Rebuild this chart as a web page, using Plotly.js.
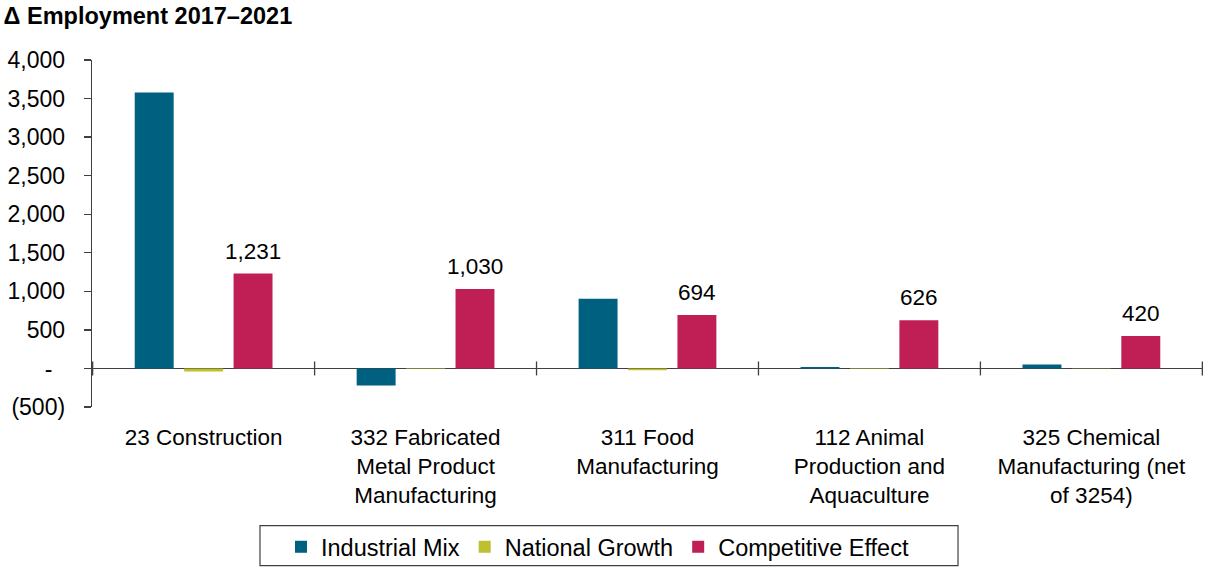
<!DOCTYPE html>
<html>
<head>
<meta charset="utf-8">
<script src="https://cdn.plot.ly/plotly-3.0.1.min.js"></script>
<style>html,body{margin:0;padding:0;background:#fff;}#chart{width:1205px;height:569px;}</style>
</head>
<body>
<div id="chart"></div>
<script>
// ---- data ----
const categories = [
  "23 Construction",
  "332 Fabricated<br>Metal Product<br>Manufacturing",
  "311 Food<br>Manufacturing",
  "112 Animal<br>Production and<br>Aquaculture",
  "325 Chemical<br>Manufacturing (net<br>of 3254)"
];
const industrialMix = [3580, -220, 905, 20, 50];
const nationalGrowth = [-40, -8, -25, -6, -5];
const competitiveEffect = [1231, 1030, 694, 626, 420];
const seriesNames = ["Industrial Mix", "National Growth", "Competitive Effect"];
const yTickVals = [-500, 0, 500, 1000, 1500, 2000, 2500, 3000, 3500, 4000];
const yTickText = ["(500)", "-\u00a0\u00a0", "500", "1,000", "1,500", "2,000", "2,500", "3,000", "3,500", "4,000"];
const chartTitle = "\u0394 Employment 2017\u20132021";

// ---- styles ----
const FONT = "Liberation Sans, Arial, Helvetica, sans-serif";
const colors = ["#006080", "#BDC12F", "#BF1F55"];
const axisColor = "#404040";
const fmt = v => v.toLocaleString("en-US");

const traces = [industrialMix, nationalGrowth, competitiveEffect].map((vals, k) => ({
  type: "bar",
  name: seriesNames[k],
  x: categories,
  y: vals,
  marker: {color: colors[k], line: {width: 0}},
  hoverinfo: "skip"
}));

const annotations = categories.map((c, i) => ({
  x: c, y: competitiveEffect[i], xref: "x", yref: "y",
  text: fmt(competitiveEffect[i]),
  showarrow: false, xshift: 49.5, yshift: 8, yanchor: "bottom",
  font: {family: FONT, size: 22.5, color: "#000"}
}));

const shapes = [];
for (let i = 0; i <= categories.length; i++) {
  shapes.push({
    type: "line", xref: "x", yref: "y", x0: i - 0.5, x1: i - 0.5,
    ysizemode: "pixel", yanchor: 0, y0: -7, y1: 7,
    line: {color: axisColor, width: 1.3}
  });
}
// legend frame
shapes.push({
  type: "rect", xref: "paper", yref: "paper",
  x0: 0.1512, x1: 0.7795, y0: -0.342, y1: -0.457,
  line: {color: "#404040", width: 1.2}, fillcolor: "rgba(0,0,0,0)"
});

const layout = {
  width: 1205, height: 569,
  margin: {l: 92, r: 2, t: 60, b: 161, pad: 0},
  paper_bgcolor: "#fff", plot_bgcolor: "#fff",
  font: {family: FONT, size: 22, color: "#000"},
  title: {
    text: "<b>" + chartTitle + "</b>",
    x: 0.003, xanchor: "left", xref: "container",
    y: 0.972, yanchor: "middle", yref: "container",
    font: {family: FONT, size: 23.5, color: "#000"}
  },
  barmode: "group", bargap: 0.332, bargroupgap: 0.212,
  showlegend: true,
  legend: {
    orientation: "h", x: 0.455, xanchor: "center", y: -0.3994, yanchor: "middle",
    font: {family: FONT, size: 23.5, color: "#000"}, bgcolor: "rgba(0,0,0,0)", borderwidth: 0,
    traceorder: "normal"
  },
  xaxis: {
    type: "category", automargin: false,
    showline: false, ticks: "", showgrid: false, zeroline: false,
    tickfont: {family: FONT, size: 22.5, color: "#000"},
    ticklabelstandoff: 14, fixedrange: true
  },
  yaxis: {
    range: [-500, 4000], automargin: false,
    tickvals: yTickVals, ticktext: yTickText,
    ticks: "outside", ticklen: 7, tickwidth: 1.3, tickcolor: axisColor,
    showline: true, linecolor: axisColor, linewidth: 1.3,
    showgrid: false, zeroline: true, zerolinecolor: axisColor, zerolinewidth: 1.5,
    tickfont: {family: FONT, size: 23, color: "#000"},
    ticklabelstandoff: 14, fixedrange: true
  },
  yaxis2: {
    overlaying: "y", side: "left", range: [-500, 4000], automargin: false,
    tickvals: yTickVals, ticks: "inside", ticklen: 7, tickwidth: 1.3, tickcolor: axisColor,
    showticklabels: false, showline: false, showgrid: false, zeroline: false, fixedrange: true
  },
  annotations: annotations,
  shapes: shapes
};

Plotly.newPlot("chart", traces, layout, {displayModeBar: false, staticPlot: true});
</script>
</body>
</html>
